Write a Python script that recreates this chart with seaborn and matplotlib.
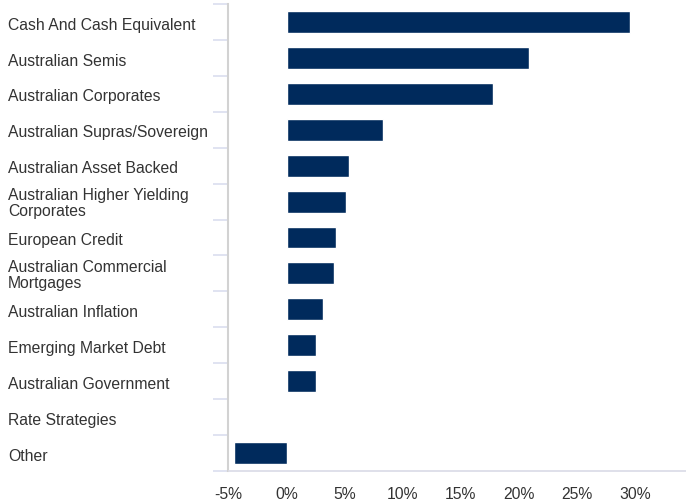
import matplotlib
matplotlib.use("Agg")
import matplotlib.pyplot as plt
import matplotlib.transforms as mtransforms
from matplotlib.ticker import FixedLocator, FuncFormatter
import numpy as np
import pandas as pd
import seaborn as sns

# Portfolio sector allocation (% of fund)
categories = [
    "Cash And Cash Equivalent",
    "Australian Semis",
    "Australian Corporates",
    "Australian Supras/Sovereign",
    "Australian Asset Backed",
    "Australian Higher Yielding\nCorporates",
    "European Credit",
    "Australian Commercial\nMortgages",
    "Australian Inflation",
    "Emerging Market Debt",
    "Australian Government",
    "Rate Strategies",
    "Other",
]
weights = [29.6, 20.9, 17.8, 8.3, 5.4, 5.1, 4.3, 4.1, 3.1, 2.5, 2.5, 0.0, -4.5]
x_ticks = [-5, 0, 5, 10, 15, 20, 25, 30]

df = pd.DataFrame({"sector": categories, "weight": weights})

sns.set_style("white")
plt.rcParams["font.family"] = ["Liberation Sans", "DejaVu Sans"]

BAR = "#002a5c"
TEXT = "#333333"
FS = 11.3

fig = plt.figure(figsize=(6.86, 5.02), dpi=100)
ax = fig.add_axes([228.5 / 686, 1 - 472 / 502, 1 - 228.5 / 686, (472 - 5) / 502])

sns.barplot(data=df, x="weight", y="sector", orient="h", color=BAR,
            saturation=1, width=0.61, ax=ax)

ax.set_xlim(-5, 34.4)
ax.set_ylim(len(categories) - 0.5, -0.5)

# x axis: percentage labels, no tick marks
ax.xaxis.set_major_locator(FixedLocator(x_ticks))
ax.xaxis.set_major_formatter(FuncFormatter(lambda v, _: f"{v:.0f}%"))
ax.tick_params(axis="x", length=0, pad=10.5, labelsize=FS, labelcolor=TEXT)
ax.set_xlabel("")
ax.set_ylabel("")

# y axis: small ticks between categories, labels drawn left-aligned at the figure edge
ax.set_yticks([])
ax.yaxis.set_minor_locator(FixedLocator(np.arange(-0.5, len(categories), 1.0)))
ax.tick_params(axis="y", which="minor", length=11, width=1.3, color="#dde0f0",
               left=True)

label_tf = mtransforms.blended_transform_factory(fig.transFigure, ax.transData)
for i, name in enumerate(categories):
    two_lines = "\n" in name
    ax.text(8 / 686, i + (0.03 if two_lines else 0.06), name, transform=label_tf,
            ha="left", va="center", fontsize=FS, color=TEXT, linespacing=1.05)

for side in ("top", "right"):
    ax.spines[side].set_visible(False)
ax.spines["left"].set_color("#d2d2d2")
ax.spines["left"].set_linewidth(1.5)
ax.spines["bottom"].set_color("#dcdde8")
ax.spines["bottom"].set_linewidth(1.3)

fig.savefig("out.png", dpi=100)
